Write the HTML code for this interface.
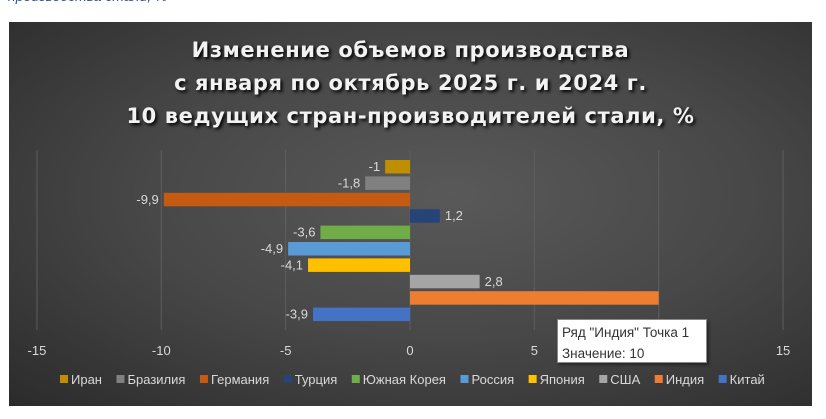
<!DOCTYPE html>
<html><head><meta charset="utf-8"><style>
body{margin:0;width:826px;height:419px;background:#fff;overflow:hidden;position:relative;font-family:"Liberation Sans","DejaVu Sans",sans-serif}
#top{position:absolute;left:8px;top:-12px;color:#2f5597;font-style:italic;font-size:14px}
#chart{position:absolute;left:9px;top:22px;width:803px;height:384px;background:radial-gradient(ellipse at 55% 45%,#595959 0%,#474747 50%,#2b2b2b 100%)}
#title{position:absolute;left:0;top:12px;width:803px;text-align:center;color:#f2f2f2;font-family:"DejaVu Sans",sans-serif;font-weight:bold;font-size:21px;line-height:33px;letter-spacing:0.6px;text-shadow:2px 2px 3px #000}
#tip{position:absolute;left:557px;top:319px;width:150px;height:44px;background:#fff;border:1px solid #888;box-shadow:2px 2px 3px rgba(0,0,0,.4);font-size:13.5px;color:#333;padding:2px 4px;box-sizing:border-box;line-height:21px}
</style></head><body>
<div id="top">производства стали, %</div>
<div id="chart">
<div id="title">Изменение объемов производства<br>с января по октябрь 2025 г. и 2024 г.<br>10 ведущих стран-производителей стали, %</div>
</div>
<svg id="svg" width="826" height="419" style="position:absolute;left:0;top:0"></svg>
<div id="tip">Ряд "Индия" Точка 1<br>Значение: 10</div>
<script>
const categories=["Иран","Бразилия","Германия","Турция","Южная Корея","Россия","Япония","США","Индия","Китай"];
const values=[-1,-1.8,-9.9,1.2,-3.6,-4.9,-4.1,2.8,10,-3.9];
const colors=["#bf8f00","#808080","#c55a11","#264478","#70ad47","#5b9bd5","#ffc000","#a5a5a5","#ed7d31","#4472c4"];
const ticks=[-15,-10,-5,0,5,10,15];
const NS="http://www.w3.org/2000/svg",svg=document.getElementById('svg');
const x=v=>410+v*24.87;
const y=i=>160+i*16.4;
function mk(t,a){const e=document.createElementNS(NS,t);for(const k in a)e.setAttribute(k,a[k]);svg.appendChild(e);return e;}
ticks.forEach(t=>{
 const l=mk('line',{x1:x(t),x2:x(t),y1:150,y2:330,stroke:'#5e5e5e','stroke-width':1});
 
 
 const tx=mk('text',{x:x(t),y:355,fill:'#d9d9d9','font-size':13,'text-anchor':'middle','font-family':'Liberation Sans, sans-serif'});
 tx.textContent=t;
 
 
});
values.forEach((v,i)=>{
 const x0=Math.min(x(0),x(v)),w=Math.abs(x(v)-x(0));
 const r=mk('rect',{x:x0,y:y(i),width:w,height:13.5,fill:colors[i]});
 
 
 const lab=mk('text',{x:v<0?x(v)-5:x(v)+5,y:y(i)+11,fill:'#d9d9d9','font-size':13,'text-anchor':v<0?'end':'start','font-family':'Liberation Sans, sans-serif'});
 lab.textContent=v>=10?'':String(v).replace('.',',');
 
 
});
let lx=60;
categories.forEach((c,i)=>{
 const s=mk('rect',{x:lx,y:375,width:8,height:8,fill:colors[i]});
 
 
 const t=mk('text',{x:lx+11,y:384,fill:'#d9d9d9','font-size':13,'font-family':'Liberation Sans, sans-serif'});
 t.textContent=c;
 
 
 lx+=11+t.getComputedTextLength()+14.5;
});
</script>
</body></html>
